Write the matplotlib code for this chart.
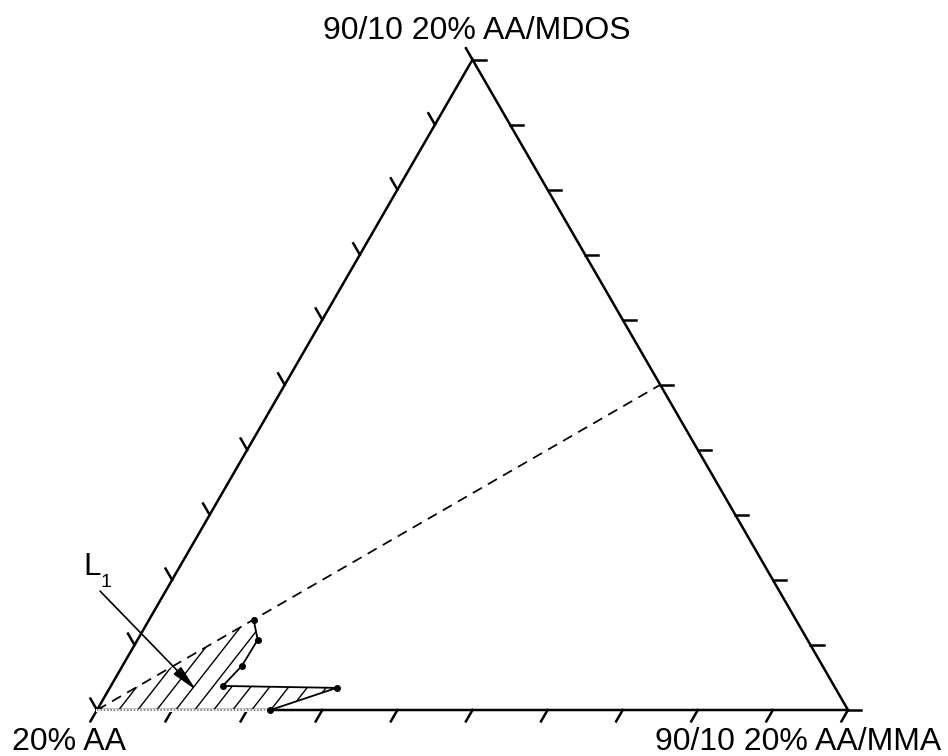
import numpy as np
import matplotlib.pyplot as plt
from matplotlib.patches import Polygon, FancyArrowPatch

plt.rcParams['font.family'] = ['Liberation Sans', 'DejaVu Sans']

# corner labels (bottom-left, bottom-right, top)
corner_a = '20% AA'
corner_b = '90/10 20% AA/MMA'
corner_c = '90/10 20% AA/MDOS'

# boundary of the L1 region: fractions of MMA and MDOS
mma = [0.139, 0.160, 0.159, 0.149, 0.302, 0.231]
mdos = [0.139, 0.108, 0.068, 0.037, 0.034, 0.000]

n_div = 10
tick_len = 0.0175
h = np.sqrt(3) / 2


def tern(b, c):
    b = np.asarray(b, dtype=float)
    c = np.asarray(c, dtype=float)
    return b + c / 2, c * h


fig = plt.figure(figsize=(9.48, 7.56), dpi=100)
ax = fig.add_axes([0, 0, 1, 1])
ax.set_xlim(-97 / 751, 851 / 751)
ax.set_ylim(-46 / 751, 710 / 751)
ax.axis('off')

# triangle
ax.plot([0, 1, 0.5, 0], [0, 0, h, 0], color='black', lw=1.8,
        solid_joinstyle='miter', zorder=3)

# ticks every 10 %
for i in range(n_div + 1):
    t = i / n_div
    # bottom edge, pointing down-left
    ax.plot([t, t - 0.5 * tick_len], [0, -h * tick_len], color='black', lw=1.8)
    # left edge, pointing up-left
    x0, y0 = 0.5 * t, h * t
    ax.plot([x0, x0 - 0.5 * tick_len], [y0, y0 + h * tick_len], color='black', lw=1.8)
    # right edge, pointing right
    x0, y0 = 1 - 0.5 * t, h * t
    ax.plot([x0, x0 + tick_len], [y0, y0], color='black', lw=1.8)

# dashed line from the AA corner to the middle of the opposite side
ax.plot([0, 0.75], [0, h / 2], color='black', lw=1.25, dashes=(6, 4))

# hatched region
px, py = tern(mma, mdos)
verts = np.column_stack([np.r_[0, px], np.r_[0, py]])
region = Polygon(verts, closed=True, facecolor='none', edgecolor='none')
ax.add_patch(region)
slope = np.tan(np.radians(52))
for x0 in np.arange(-0.3, 0.45, 19 / 751):
    xs = np.array([x0, x0 + 0.3])
    ln, = ax.plot(xs, slope * (xs - x0), color='black', lw=1.0)
    ln.set_clip_path(region)

# boundary polyline with points
ax.plot(px, py, color='black', lw=1.3, marker='o', ms=4, zorder=4)

# bottom of the region drawn dotted over the axis line
ax.plot([0, px[-1]], [0, 0], color='white', lw=2.2, zorder=3.5)
ax.plot([0, px[-1]], [0, 0], color='#777777', lw=1.2, ls=(0, (1, 1)), zorder=3.6)

# L1 arrow
arrow = FancyArrowPatch((0.0015, 0.161), (0.1345, 0.024),
                        arrowstyle='-|>,head_length=0.8,head_width=0.16',
                        mutation_scale=20, color='black', lw=1.2, zorder=5)
ax.add_patch(arrow)
ax.text(-0.0186, 0.18, 'L', fontsize=22.5, ha='left', va='baseline')
ax.text(0.0053, 0.164, '1', fontsize=14, ha='left', va='baseline')

# corner labels
ax.text(0.5 + 0.006, 0.8935, corner_c, fontsize=23, ha='center', va='baseline')
ax.text(-0.0378, -0.0533, corner_a, fontsize=23, ha='center', va='baseline')
ax.text(0.934, -0.0533, corner_b, fontsize=23, ha='center', va='baseline')

fig.savefig('out.png', dpi=100)
